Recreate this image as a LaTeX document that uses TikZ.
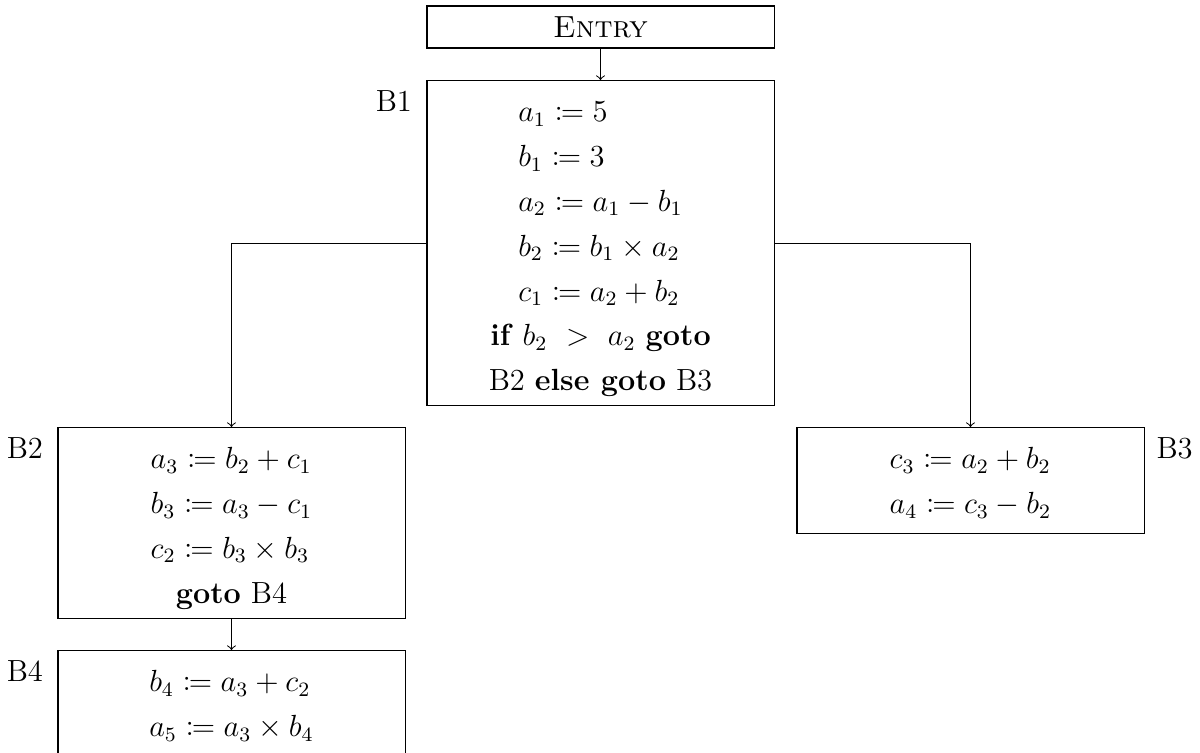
\documentclass[tikz,border=0pt]{standalone}
\usepackage{mathtools}
\begin{document}
\begin{tikzpicture}[x=0.3922pt,y=-0.3922pt,
  every node/.style={font=\fontsize{12}{14.5}\selectfont},
  block/.style={draw, line width=0.4pt, minimum width=136.1pt, inner xsep=0pt, inner ysep=0.6pt, anchor=north},
  tagl/.style={anchor=north east, inner sep=4pt},
  tagr/.style={anchor=north west, inner sep=4pt},
  flow/.style={->, line width=0.4pt}]
\useasboundingbox (0,0) rectangle (1200,753);
\renewcommand{\arraystretch}{1.214}
\node[draw, line width=0.4pt, minimum width=136.1pt, minimum height=16.47pt, inner sep=0pt] (entry) at (600.5,27) {\textsc{Entry}};
\node[block] (b1) at (600.5,80) {\begin{tabular}{@{}c@{}}$\begin{array}{@{}l@{}}
\rule{0pt}{15.5pt}a_1 \coloneqq 5\\
b_1 \coloneqq 3\\
a_2 \coloneqq a_1 - b_1\\
b_2 \coloneqq b_1 \times a_2\\
c_1 \coloneqq a_2 + b_2
\end{array}$\\
\textbf{if} $b_2\ >\ a_2$ \textbf{goto}\\
B2 \textbf{else goto} B3
\end{tabular}};
\node[block] (b2) at (231.5,427) {\begin{tabular}{@{}c@{}}$\begin{array}{@{}l@{}}
\rule{0pt}{15.5pt}a_3 \coloneqq b_2 + c_1\\
b_3 \coloneqq a_3 - c_1\\
c_2 \coloneqq b_3 \times b_3
\end{array}$\\
\textbf{goto} B4
\end{tabular}};
\node[block] (b3) at (970.5,427) {\begin{tabular}{@{}c@{}}$\begin{array}{@{}l@{}}
\rule{0pt}{15.5pt}c_3 \coloneqq a_2 + b_2\\
a_4 \coloneqq c_3 - b_2\rule[-7.2pt]{0pt}{7pt}
\end{array}$
\end{tabular}};
\node[block] (b4) at (231.5,650) {\begin{tabular}{@{}c@{}}$\begin{array}{@{}l@{}}
\rule{0pt}{15.5pt}b_4 \coloneqq a_3 + c_2\\
a_5 \coloneqq a_3 \times b_4\rule[-12pt]{0pt}{12pt}
\end{array}$
\end{tabular}};
\node[tagl] (l1) at ([xshift=-1.5pt]b1.north west) {B1};
\node[tagl] (l2) at ([xshift=-1.5pt]b2.north west) {B2};
\node[tagr] (l3) at ([xshift=0.5pt]b3.north east) {B3};
\node[tagl] (l4) at ([xshift=-1.5pt]b4.north west) {B4};
\draw[flow] (entry.south) -- (b1.north);
\draw[flow] (b1.west) -| (b2.north);
\draw[flow] (b1.east) -| (b3.north);
\draw[flow] (b2.south) -- (b4.north);
\end{tikzpicture}
\end{document}
